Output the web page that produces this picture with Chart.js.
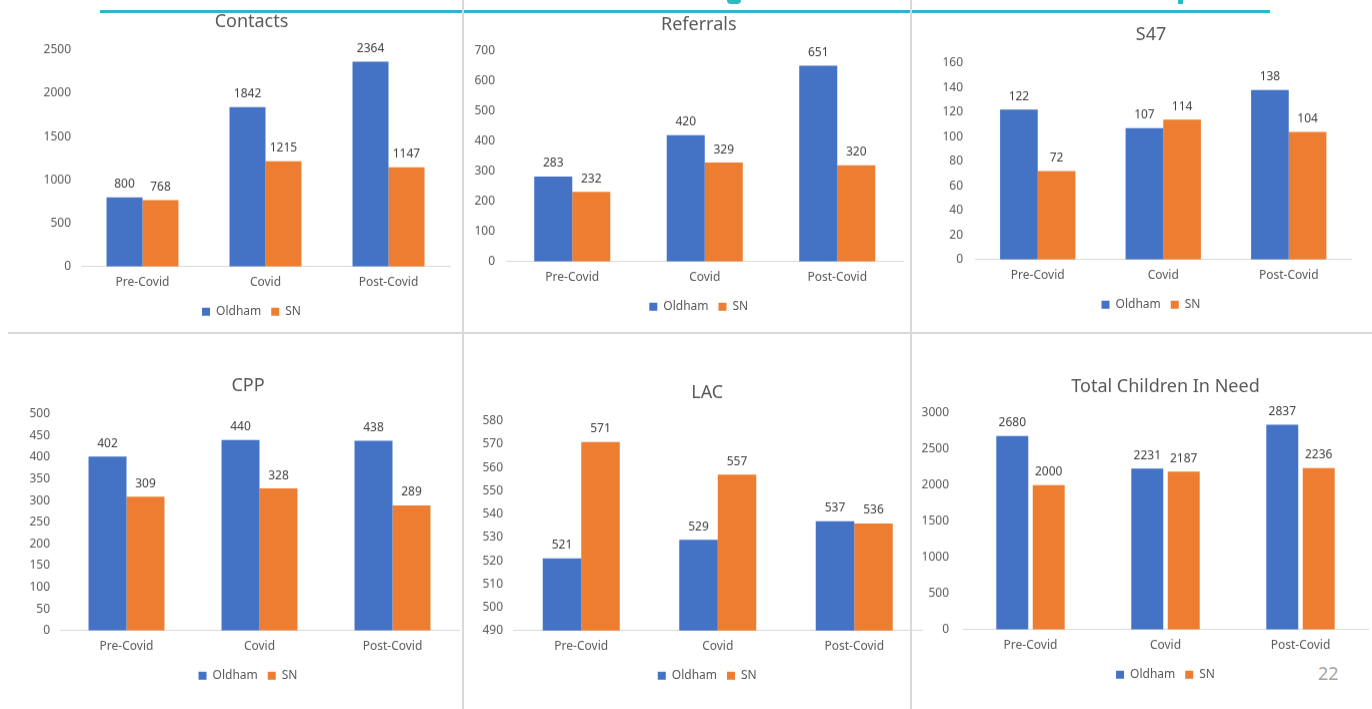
<!DOCTYPE html>
<html>
<head>
<meta charset="utf-8">
<script src="https://cdn.jsdelivr.net/npm/chart.js@4.4.1/dist/chart.umd.min.js"></script>
<style>
    html, body { margin: 0; padding: 0; background: #fff; width: 1372px; height: 709px; overflow: hidden; position: relative; font-family: "Noto Sans", sans-serif; }
    .box { position: absolute; }
    .rule { position: absolute; background: #d9d9d9; }
    .teal { position: absolute; background: #2bb8c4; }
    .pageno { position: absolute; left: 1318px; top: 661px; font-size: 18px; color: #a6a6a6; }
</style>
</head>
<body>
<div class="teal" style="left:100px;top:10px;width:1170px;height:3px;"></div>
<div class="teal" style="left:727px;top:0;width:14px;height:4px;border-radius:0 0 7px 7px;"></div>
<div class="teal" style="left:1178px;top:0;width:5px;height:4px;"></div>
<div class="rule" style="left:462px;top:0;width:2px;height:709px;"></div>
<div class="rule" style="left:910px;top:0;width:2px;height:709px;"></div>
<div class="rule" style="left:8px;top:332px;width:1364px;height:2px;"></div>
<div class="pageno">22</div>

<div class="box" id="b1"><canvas id="c1"></canvas></div>
<div class="box" id="b2"><canvas id="c2"></canvas></div>
<div class="box" id="b3"><canvas id="c3"></canvas></div>
<div class="box" id="b4"><canvas id="c4"></canvas></div>
<div class="box" id="b5"><canvas id="c5"></canvas></div>
<div class="box" id="b6"><canvas id="c6"></canvas></div>

<script>
// data
const categories = ["Pre-Covid", "Covid", "Post-Covid"];
const seriesNames = ["Oldham", "SN"];

const contactsOldham = [800, 1842, 2364];
const contactsSN = [768, 1215, 1147];
const referralsOldham = [283, 420, 651];
const referralsSN = [232, 329, 320];
const s47Oldham = [122, 107, 138];
const s47SN = [72, 114, 104];
const cppOldham = [402, 440, 438];
const cppSN = [309, 328, 289];
const lacOldham = [521, 529, 537];
const lacSN = [571, 557, 536];
const cinOldham = [2680, 2231, 2837];
const cinSN = [2000, 2187, 2236];

(function () {
    const BLUE = "#4472c4";
    const ORANGE = "#ed7d31";
    const AXIS_W = 50;   // fixed y axis width
    const XAXIS_H = 29;  // fixed x axis height
    const LEGEND_H = 32;
    const TITLE_SIZE = 18;

    // labels on top of the bars
    const barLabels = {
        id: "barLabels",
        afterDatasetsDraw(chart) {
            const ctx = chart.ctx;
            ctx.save();
            ctx.font = "12px 'Noto Sans'";
            ctx.fillStyle = "#404040";
            ctx.textAlign = "center";
            ctx.textBaseline = "middle";
            chart.data.datasets.forEach((ds, i) => {
                chart.getDatasetMeta(i).data.forEach((bar, j) => {
                    ctx.fillText(String(ds.data[j]), bar.x, bar.y - 13);
                });
            });
            ctx.restore();
        }
    };

    function render(id, title, oldham, sn, lay) {
        const box = document.getElementById("b" + id);
        const catW = lay.catW;
        const plotW = catW * 3;
        const left = lay.plotLeft - AXIS_W;
        const right = 2 * lay.center - left;
        const padRight = right - (lay.plotLeft + plotW);
        const titleH = TITLE_SIZE * 1.2;
        const tTop = 6;
        const tBottom = lay.plotTop - lay.titleY - titleH / 2 - 2;
        const top = lay.titleY - titleH / 2 - 4;
        const height = (lay.baseline + XAXIS_H + LEGEND_H) - top;

        box.style.left = left + "px";
        box.style.top = top + "px";
        box.style.width = (right - left) + "px";
        box.style.height = height + "px";

        const cfg = {
            type: "bar",
            data: {
                labels: categories,
                datasets: [
                    { label: seriesNames[0], data: oldham, backgroundColor: BLUE,
                      categoryPercentage: lay.catPct, barPercentage: lay.barPct || 1 },
                    { label: seriesNames[1], data: sn, backgroundColor: ORANGE,
                      categoryPercentage: lay.catPct, barPercentage: lay.barPct || 1 }
                ]
            },
            options: {
                responsive: true,
                maintainAspectRatio: false,
                animation: false,
                layout: { padding: 0 },
                plugins: {
                    title: {
                        display: true,
                        text: title,
                        color: "#595959",
                        font: { family: "'Noto Sans'", size: TITLE_SIZE, weight: "normal" },
                        padding: { top: tTop, bottom: tBottom }
                    },
                    legend: {
                        position: "bottom",
                        labels: {
                            boxWidth: 8, boxHeight: 8, padding: 10,
                            color: "#595959",
                            font: { family: "'Noto Sans'", size: 12 }
                        }
                    },
                    tooltip: { enabled: false }
                },
                scales: {
                    x: {
                        afterFit: s => { s.height = XAXIS_H; },
                        grid: { display: false, drawTicks: false },
                        border: { display: true, color: "#d9d9d9", width: 1 },
                        ticks: { padding: 9, color: "#595959", font: { family: "'Noto Sans'", size: 12 } }
                    },
                    y: {
                        afterFit: s => { s.width = AXIS_W; },
                        min: lay.min, max: lay.max,
                        grid: { display: false, drawTicks: false },
                        border: { display: false },
                        ticks: { stepSize: lay.step, padding: lay.tickPad, color: "#595959",
                                 font: { family: "'Noto Sans'", size: 12 },
                                 callback: v => String(v) }
                    },
                    // empty right axis, just keeps the plot off the right edge
                    yr: {
                        type: "linear",
                        position: "right",
                        afterFit: s => { s.width = padRight; },
                        grid: { display: false, drawTicks: false },
                        border: { display: false },
                        ticks: { display: false }
                    }
                }
            },
            plugins: [barLabels]
        };
        new Chart(document.getElementById("c" + id), cfg);
    }

    render(1, "Contacts", contactsOldham, contactsSN,
        { plotLeft: 80.5, catW: 123, center: 251, titleY: 20, plotTop: 50, baseline: 266,
          min: 0, max: 2500, step: 500, tickPad: 10, catPct: 0.585 });
    render(2, "Referrals", referralsOldham, referralsSN,
        { plotLeft: 505.75, catW: 132.5, center: 698.5, titleY: 23, plotTop: 51, baseline: 261,
          min: 0, max: 700, step: 100, tickPad: 11, catPct: 0.574 });
    render(3, "S47", s47Oldham, s47SN,
        { plotLeft: 975, catW: 125.5, center: 1151, titleY: 33, plotTop: 63, baseline: 259,
          min: 0, max: 160, step: 20, tickPad: 12, catPct: 0.6 });
    render(4, "CPP", cppOldham, cppSN,
        { plotLeft: 59.5, catW: 133, center: 247.5, titleY: 384, plotTop: 414, baseline: 630,
          min: 0, max: 500, step: 50, tickPad: 10, catPct: 0.571 });
    render(5, "LAC", lacOldham, lacSN,
        { plotLeft: 512.75, catW: 136.5, center: 707, titleY: 391, plotTop: 421, baseline: 630,
          min: 490, max: 580, step: 10, tickPad: 10, catPct: 0.564 });
    render(6, "Total Children In Need", cinOldham, cinSN,
        { plotLeft: 962.5, catW: 135, center: 1165, titleY: 385, plotTop: 413, baseline: 629,
          min: 0, max: 3000, step: 500, tickPad: 14, catPct: 0.54, barPct: 0.877 });
})();
</script>
</body>
</html>
